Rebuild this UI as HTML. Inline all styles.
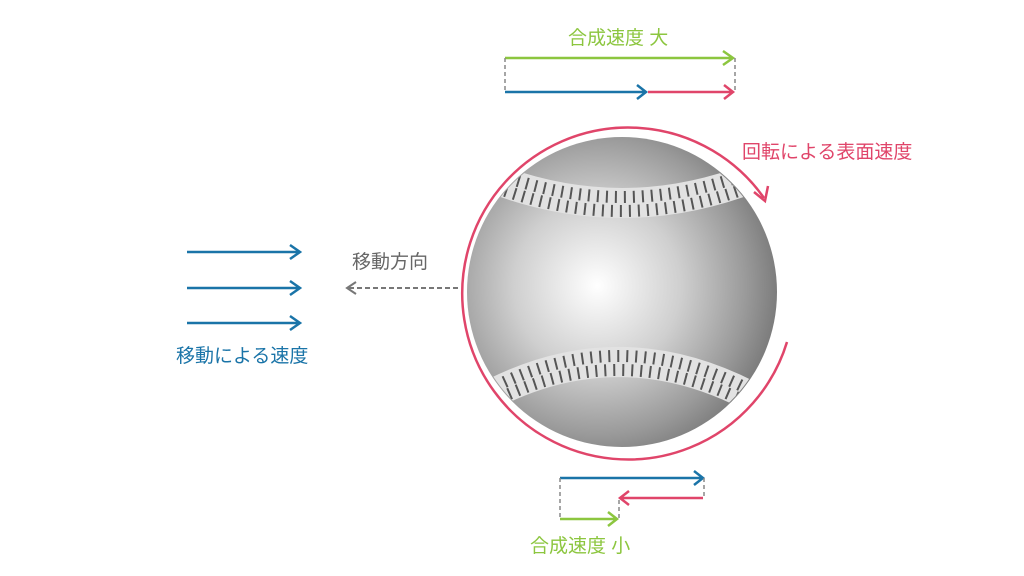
<!DOCTYPE html>
<html><head><meta charset="utf-8"><style>
body{margin:0;width:1024px;height:576px;background:#fff;overflow:hidden}
svg{display:block}
text{font-family:"Liberation Sans","Noto Sans CJK JP",sans-serif;font-size:19px}
</style></head><body>
<svg width="1024" height="576" viewBox="0 0 1024 576">
<defs>
<radialGradient id="g" cx="0.42" cy="0.48" r="0.6">
<stop offset="0" stop-color="#ffffff"/>
<stop offset="0.45" stop-color="#cfcfcf"/>
<stop offset="0.8" stop-color="#9a9a9a"/>
<stop offset="1" stop-color="#777"/>
</radialGradient>
<clipPath id="c"><circle cx="622" cy="292" r="154"/></clipPath>
</defs>
<circle cx="622" cy="292" r="155" fill="url(#g)"/>
<g fill="none" clip-path="url(#c)">
<path d="M492,178 Q622,228 752,178" stroke="#e2e2e2" stroke-width="30"/>
<path d="M492,172 Q622,222 752,172" stroke="#555" stroke-width="12" stroke-dasharray="2 7"/>
<path d="M492,186 Q622,236 752,186" stroke="#555" stroke-width="12" stroke-dasharray="2 7" stroke-dashoffset="4"/>
<path d="M496,392 Q622,330 750,396" stroke="#e2e2e2" stroke-width="30"/>
<path d="M496,386 Q622,324 750,390" stroke="#555" stroke-width="12" stroke-dasharray="2 7"/>
<path d="M496,400 Q622,338 750,404" stroke="#555" stroke-width="12" stroke-dasharray="2 7" stroke-dashoffset="4"/>
</g>
<path d="M787,342 A166,166 0 1 1 764,198" fill="none" stroke="#e0456a" stroke-width="2.5"/>
<path d="M754,192 L765,201 L768,186" fill="none" stroke="#e0456a" stroke-width="2.5"/>
<g stroke="#1a74a8" stroke-width="2.5" fill="none">
<path d="M187,252 H300 M290,245 L300,252 L290,259"/>
<path d="M187,288 H300 M290,281 L300,288 L290,295"/>
<path d="M187,323 H300 M290,316 L300,323 L290,330"/>
</g>
<text x="176" y="362" fill="#1a74a8">移動による速度</text>
<path d="M458,288 H348" stroke="#777" stroke-width="2" stroke-dasharray="5 3" fill="none"/>
<path d="M356,282 L347,288 L356,294" stroke="#777" stroke-width="2" fill="none"/>
<text x="352" y="268" fill="#666">移動方向</text>
<text x="568" y="44" fill="#8cc63f">合成速度 大</text>
<g fill="none" stroke-width="2.5">
<path d="M505,58 H733 M723,51 L733,58 L723,65" stroke="#8cc63f"/>
<path d="M505,92 H646 M637,85 L646,92 L637,99" stroke="#1a74a8"/>
<path d="M648,92 H733 M724,85 L733,92 L724,99" stroke="#e0456a"/>
<path d="M505,58 V92 M735,58 V92" stroke="#888" stroke-width="1.5" stroke-dasharray="4 3"/>
</g>
<text x="742" y="158" fill="#e0456a">回転による表面速度</text>
<g fill="none" stroke-width="2.5">
<path d="M560,478 H703 M694,471 L703,478 L694,485" stroke="#1a74a8"/>
<path d="M703,498 H620 M629,491 L620,498 L629,505" stroke="#e0456a"/>
<path d="M560,519 H617 M608,512 L617,519 L608,526" stroke="#8cc63f"/>
<path d="M560,478 V519 M704,478 V498 M619,500 V519" stroke="#888" stroke-width="1.5" stroke-dasharray="4 3"/>
</g>
<text x="530" y="552" fill="#8cc63f">合成速度 小</text>
</svg>
</body></html>
